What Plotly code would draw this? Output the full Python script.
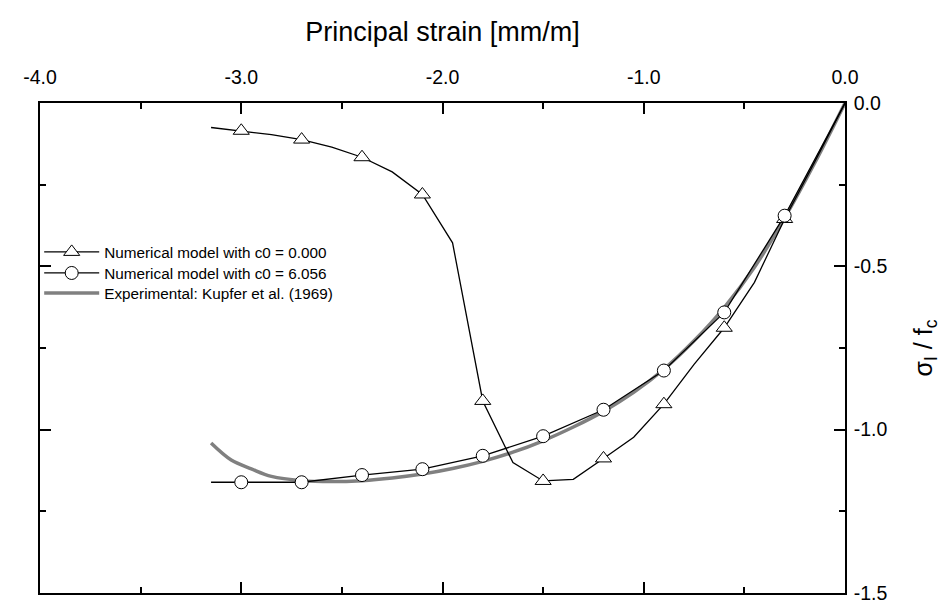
import plotly.graph_objects as go

# ---- data ----
strain_c0_000 = [-3.15, -3.0, -2.85, -2.7, -2.55, -2.4, -2.25, -2.1, -1.95, -1.8, -1.65,
                 -1.5, -1.35, -1.2, -1.05, -0.9, -0.75, -0.6, -0.45, -0.3, -0.15, 0.0]
stress_c0_000 = [-0.075, -0.085, -0.097, -0.112, -0.135, -0.166, -0.211, -0.280, -0.428,
                 -0.912, -1.101, -1.157, -1.152, -1.088, -1.023, -0.922, -0.800, -0.688,
                 -0.549, -0.355, -0.180, 0.0]
marker_c0_000 = [0, 1, 0, 1, 0, 1, 0, 1, 0, 1, 0, 1, 0, 1, 0, 1, 0, 1, 0, 1, 0, 0]

strain_c0_6056 = [-3.15, -3.0, -2.7, -2.4, -2.1, -1.8, -1.5, -1.2, -0.9, -0.6, -0.3, 0.0]
stress_c0_6056 = [-1.161, -1.161, -1.161, -1.139, -1.121, -1.080, -1.020, -0.939, -0.819,
                  -0.641, -0.345, 0.0]
marker_c0_6056 = [0, 1, 1, 1, 1, 1, 1, 1, 1, 1, 1, 0]

strain_exp = [-3.15, -3.05, -2.95, -2.85, -2.7, -2.55, -2.4, -2.25, -2.1, -1.95, -1.8,
              -1.65, -1.5, -1.35, -1.2, -1.05, -0.9, -0.75, -0.6, -0.45, -0.3, -0.15, 0.0]
stress_exp = [-1.041, -1.093, -1.120, -1.143, -1.156, -1.159, -1.156, -1.148, -1.136,
              -1.119, -1.097, -1.069, -1.034, -0.992, -0.944, -0.886, -0.815, -0.728,
              -0.626, -0.503, -0.352, -0.183, 0.0]

names = ["Numerical model with c0 = 0.000",
         "Numerical model with c0 = 6.056",
         "Experimental: Kupfer et al. (1969)"]

x_ticks = [-4.0, -3.0, -2.0, -1.0, 0.0]
y_ticks = [0.0, -0.5, -1.0, -1.5]

x_title = "Principal strain [mm/m]"
y_title = "σ<sub>I</sub> / f<sub>c</sub>"

FONT = "Liberation Sans, Arial, sans-serif"
TRI = 14
CIR = 13
LINE_W = 1.3
GRAY = "#808080"


def pick(vals, flags):
    return [v for v, f in zip(vals, flags) if f]


fig = go.Figure()

# experimental curve (drawn underneath)
fig.add_trace(go.Scatter(
    x=strain_exp, y=stress_exp, mode="lines", showlegend=False, hoverinfo="skip",
    line=dict(color=GRAY, width=3.5, shape="spline"),
))
# numerical lines
fig.add_trace(go.Scatter(
    x=strain_c0_000, y=stress_c0_000, mode="lines", showlegend=False,
    line=dict(color="black", width=LINE_W),
))
fig.add_trace(go.Scatter(
    x=strain_c0_6056, y=stress_c0_6056, mode="lines", showlegend=False,
    line=dict(color="black", width=LINE_W),
))
# markers
tri_marker = dict(symbol="triangle-up", size=TRI, color="white", line=dict(color="black", width=1))
cir_marker = dict(symbol="circle", size=CIR, color="white", line=dict(color="black", width=1))
fig.add_trace(go.Scatter(
    x=pick(strain_c0_000, marker_c0_000), y=pick(stress_c0_000, marker_c0_000),
    mode="markers", showlegend=False, marker=tri_marker,
))
fig.add_trace(go.Scatter(
    x=pick(strain_c0_6056, marker_c0_6056), y=pick(stress_c0_6056, marker_c0_6056),
    mode="markers", showlegend=False, marker=cir_marker,
))

# legend entries (one legend per entry for exact spacing)
fig.add_trace(go.Scatter(x=[None], y=[None], mode="lines+markers", name=names[0],
                         line=dict(color="black", width=LINE_W), marker=tri_marker,
                         legend="legend"))
fig.add_trace(go.Scatter(x=[None], y=[None], mode="lines+markers", name=names[1],
                         line=dict(color="black", width=LINE_W), marker=cir_marker,
                         legend="legend2"))
fig.add_trace(go.Scatter(x=[None], y=[None], mode="lines", name=names[2],
                         line=dict(color=GRAY, width=3.5), legend="legend3"))

axis_common = dict(
    showline=True, linecolor="black", linewidth=1.5, mirror="allticks",
    ticks="inside", ticklen=11, tickwidth=1.5, tickcolor="black",
    showgrid=False, zeroline=False, automargin=False,
    tickfont=dict(family=FONT, size=19.5, color="black"),
)

fig.update_xaxes(
    **axis_common, side="top", range=[-4.0, 0.0], tickvals=x_ticks,
    ticktext=[f"{v:.1f}" for v in x_ticks], ticklabelstandoff=9,
    minor=dict(ticks="inside", ticklen=6, tickwidth=1.5, tickcolor="black", dtick=0.5,
               showgrid=False),
    title=dict(text=x_title, font=dict(family=FONT, size=27, color="black"), standoff=17),
)
fig.update_yaxes(
    **axis_common, side="right", range=[-1.5, 0.0], tickvals=y_ticks,
    ticktext=[f"{v:.1f}" for v in y_ticks], ticklabelstandoff=3,
    minor=dict(ticks="inside", ticklen=6, tickwidth=1.5, tickcolor="black", dtick=0.25,
               showgrid=False),
    title=dict(text=y_title, font=dict(family=FONT, size=25, color="black"), standoff=28),
)

leg_common = dict(
    x=-0.001, xanchor="left", yanchor="middle",
    bgcolor="rgba(0,0,0,0)", borderwidth=0,
    font=dict(family=FONT, size=15.3, color="black"),
    itemwidth=55,
)
fig.update_layout(
    width=946, height=604,
    margin=dict(l=32, r=109, t=95, b=19),
    paper_bgcolor="white", plot_bgcolor="white",
    showlegend=True,
    legend=dict(**leg_common, y=0.696),
    legend2=dict(**leg_common, y=0.653),
    legend3=dict(**leg_common, y=0.612),
)

fig.write_html("out.html")
